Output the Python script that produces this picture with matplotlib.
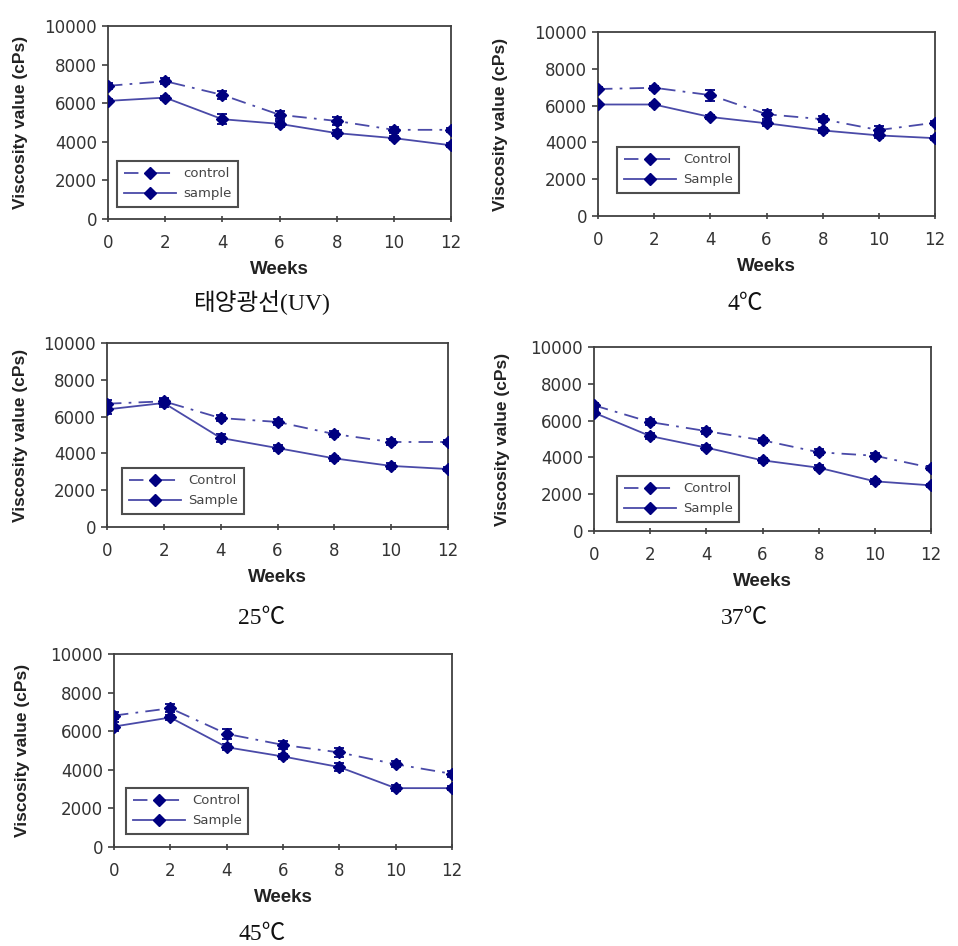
import numpy as np
import matplotlib
matplotlib.use('Agg')
import matplotlib.pyplot as plt

# 주(week)
weeks = [0, 2, 4, 6, 8, 10, 12]

# 점도 데이터 (cPs) - 그림에서 읽은 값
uv_control = [6900, 7140, 6430, 5400, 5080, 4620, 4620]
uv_sample = [6120, 6290, 5170, 4930, 4450, 4190, 3820]
uv_control_err = [150, 150, 200, 200, 200, 150, 100]
uv_sample_err = [100, 100, 250, 150, 150, 100, 100]

c4_control = [6900, 6970, 6570, 5530, 5260, 4670, 5070]
c4_sample = [6060, 6060, 5380, 5040, 4650, 4380, 4230]
c4_control_err = [100, 100, 300, 250, 150, 200, 100]
c4_sample_err = [100, 100, 100, 150, 150, 150, 100]

c25_control = [6700, 6830, 5920, 5710, 5050, 4620, 4620]
c25_sample = [6390, 6740, 4840, 4290, 3730, 3320, 3150]
c25_control_err = [200, 200, 150, 150, 150, 150, 100]
c25_sample_err = [250, 200, 200, 150, 150, 150, 100]

c37_control = [6830, 5920, 5430, 4930, 4280, 4090, 3440]
c37_sample = [6430, 5160, 4530, 3840, 3440, 2700, 2480]
c37_control_err = [150, 150, 150, 150, 150, 150, 100]
c37_sample_err = [150, 150, 150, 150, 150, 150, 100]

c45_control = [6810, 7190, 5860, 5290, 4900, 4290, 3790]
c45_sample = [6240, 6710, 5170, 4690, 4140, 3050, 3050]
c45_control_err = [200, 200, 250, 200, 250, 150, 150]
c45_sample_err = [250, 150, 150, 150, 200, 150, 100]

panels = [
    ('태양광선(UV)', uv_control, uv_sample, uv_control_err, uv_sample_err, ['control', 'sample']),
    ('4℃', c4_control, c4_sample, c4_control_err, c4_sample_err, ['Control', 'Sample']),
    ('25℃', c25_control, c25_sample, c25_control_err, c25_sample_err, ['Control', 'Sample']),
    ('37℃', c37_control, c37_sample, c37_control_err, c37_sample_err, ['Control', 'Sample']),
    ('45℃', c45_control, c45_sample, c45_control_err, c45_sample_err, ['Control', 'Sample']),
]

# 픽셀 단위 위치 (left, right, top, bottom), 범례 오프셋, 캡션 위치
W, H = 958, 946
boxes = [(108, 451, 26, 219), (598, 935, 32, 216), (107, 448, 343, 527),
         (594, 931, 347, 531), (114, 452, 654, 847)]
leg_off = [(9, 12), (19, 23), (15, 13), (23, 9), (12, 13)]
ylab_x = [28, 508, 28, 510, 30]
captions = [(262, 303), (745, 305), (262, 618), (744, 618), (262, 934)]

line_col = '#4a4aa8'
mk_col = '#000080'

fig = plt.figure(figsize=(W / 100, H / 100), dpi=100)

for i, (cap, ctrl, samp, cerr, serr, labels) in enumerate(panels):
    l, r, t, b = boxes[i]
    ax = fig.add_axes([l / W, 1 - b / H, (r - l) / W, (b - t) / H])
    ax.plot(weeks, ctrl, color=line_col, lw=1.3, linestyle=(0, (8, 4, 1.5, 4)),
            marker='D', markersize=6.5, markerfacecolor=mk_col, markeredgecolor=mk_col,
            label=labels[0], zorder=3)
    ax.plot(weeks, samp, color=line_col, lw=1.3, linestyle='-',
            marker='D', markersize=6.5, markerfacecolor=mk_col, markeredgecolor=mk_col,
            label=labels[1], zorder=3)
    ax.errorbar(weeks, ctrl, yerr=cerr, fmt='none', ecolor=mk_col, elinewidth=1.3,
                capsize=3.5, capthick=1.3, zorder=2)
    ax.errorbar(weeks, samp, yerr=serr, fmt='none', ecolor=mk_col, elinewidth=1.3,
                capsize=3.5, capthick=1.3, zorder=2)

    ax.set_xlim(0, 12)
    ax.set_ylim(0, 10000)
    ax.set_xticks(weeks)
    ax.set_yticks(range(0, 10001, 2000))
    for s in ax.spines.values():
        s.set_color('#404040')
        s.set_linewidth(1.3)
    ax.tick_params(axis='both', labelsize=12, labelcolor='#333333', color='#404040',
                   length=4, width=1.2)
    ax.tick_params(axis='x', direction='inout', pad=9)
    ax.tick_params(axis='y', direction='out', pad=4)
    ax.set_xlabel('Weeks', fontsize=13.5, fontweight='bold', color='#222222',
                  family='Liberation Sans')
    ax.xaxis.set_label_coords(0.5, -42 / (b - t))
    ax.set_ylabel('Viscosity value (cPs)', fontsize=12.5, fontweight='bold',
                  color='#222222', family='Liberation Sans')
    ax.yaxis.set_label_coords(-(l - ylab_x[i]) / (r - l), 0.5)

    lx, ly = leg_off[i]
    leg = ax.legend(loc='lower left', bbox_to_anchor=(lx / (r - l), ly / (b - t)),
                    fontsize=9.5, handlelength=4.0, frameon=True, fancybox=False,
                    borderpad=0.5, labelspacing=0.55, handletextpad=0.5,
                    borderaxespad=0)
    leg.get_frame().set_edgecolor('#222222')
    leg.get_frame().set_linewidth(1.5)
    for txt in leg.get_texts():
        txt.set_color('#444444')

    cx, cy = captions[i]
    fig.text(cx / W, 1 - cy / H, cap, ha='center', va='center', fontsize=17,
             family=['Liberation Serif', 'Noto Sans CJK KR'], color='#111111')

fig.savefig('out.png', dpi=100)
